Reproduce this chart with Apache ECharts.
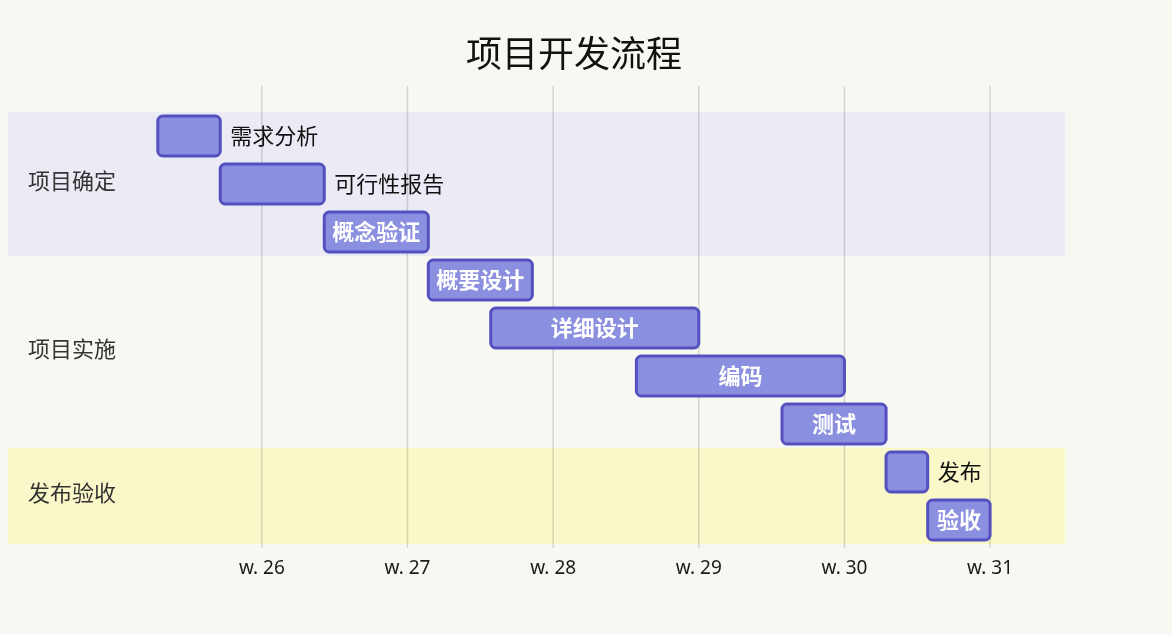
<!DOCTYPE html>
<html>
<head>
<meta charset="utf-8">
<script src="https://cdn.jsdelivr.net/npm/echarts@6/dist/echarts.min.js"></script>
<style>
html,body{margin:0;padding:0;background:#f8f8f3;}
#chart{width:1172px;height:634px;}
</style>
</head>
<body>
<div id="chart"></div>
<script>
// ---- data (days relative to Monday of week 26) ----
const taskNames  = ['需求分析','可行性报告','概念验证','概要设计','详细设计','编码','测试','发布','验收'];
const taskStart  = [-5, -2, 3, 8, 11, 18, 25, 30, 32];
const taskEnd    = [-2,  3, 8, 13, 21, 28, 30, 32, 35];
const groupNames = ['项目确定','项目实施','发布验收'];
const groupFirst = [0, 3, 7];
const groupLast  = [2, 6, 8];
const groupColors = ['#ebebf5', 'rgba(0,0,0,0)', '#faf7c8'];
const weekDays   = [0, 7, 14, 21, 28, 35];
const weekLabels = ['w. 26','w. 27','w. 28','w. 29','w. 30','w. 31'];

const FONT = '"Noto Sans CJK SC", "Noto Sans", sans-serif';
const LATIN = '"Noto Sans", sans-serif';
const measureCanvas = document.createElement('canvas').getContext('2d');
function textWidth(t, font) { measureCanvas.font = font; return measureCanvas.measureText(t).width; }

const chart = echarts.init(document.getElementById('chart'), null, {renderer: 'canvas'});

const option = {
  backgroundColor: '#f8f8f3',
  animation: false,
  title: {
    text: '项目开发流程',
    left: 466, top: 35, padding: 0,
    textStyle: {fontSize: 36, fontWeight: 'normal', color: '#111', fontFamily: FONT}
  },
  grid: {left: 8, right: 107, top: 112, bottom: 90},
  xAxis: {
    type: 'value', min: -12.2, max: 38.6,
    axisLine: {show: false},
    axisTick: {show: false, customValues: weekDays},
    splitLine: {show: false},
    axisLabel: {
      customValues: weekDays,
      formatter: v => weekLabels[weekDays.indexOf(v)] || '',
      fontSize: 19, color: '#1a1a1a', margin: 15, fontFamily: LATIN
    }
  },
  yAxis: {
    type: 'category', inverse: true, data: taskNames, show: false
  },
  series: [
    {
      type: 'custom', z: 1, silent: true,
      data: groupNames.map((g, i) => [groupFirst[i], groupLast[i], i]),
      encode: {y: [0, 1]},
      renderItem: function (params, api) {
        const cs = params.coordSys;
        const first = api.value(0), last = api.value(1), gi = api.value(2);
        const rowH = api.size([0, 1])[1];
        const yTop = api.coord([0, first])[1] - rowH / 2;
        const yBot = api.coord([0, last])[1] + rowH / 2;
        return {
          type: 'group',
          children: [
            {type: 'rect', shape: {x: cs.x, y: yTop, width: cs.width, height: yBot - yTop},
             style: {fill: groupColors[gi]}},
            {type: 'text', style: {text: groupNames[gi], x: 28, y: (yTop + yBot) / 2 - 3,
             fill: '#333', fontSize: 22, fontFamily: FONT, align: 'left', verticalAlign: 'middle'}}
          ]
        };
      }
    },
    {
      type: 'custom', z: 2, silent: true,
      data: weekDays.map(d => [d]),
      encode: {x: 0},
      renderItem: function (params, api) {
        const cs = params.coordSys;
        const x = api.coord([api.value(0), 0])[0];
        return {
          type: 'line',
          shape: {x1: x, y1: cs.y - 26, x2: x, y2: cs.y + cs.height + 4},
          style: {stroke: 'rgba(0,0,0,0.14)', lineWidth: 1.5}
        };
      }
    },
    {
      type: 'custom', z: 3,
      data: taskNames.map((n, i) => [i, taskStart[i], taskEnd[i]]),
      encode: {y: 0, x: [1, 2]},
      renderItem: function (params, api) {
        const yi = api.value(0);
        const p0 = api.coord([api.value(1), yi]);
        const p1 = api.coord([api.value(2), yi]);
        const h = api.size([0, 1])[1] * 0.83;
        const w = p1[0] - p0[0];
        const name = taskNames[yi];
        const tw = textWidth(name, 'bold 22px ' + FONT);
        const inside = tw + 12 <= w;
        const label = inside
          ? {type: 'text', style: {text: name, x: (p0[0] + p1[0]) / 2, y: p0[1],
              fill: '#ffffff', fontSize: 22, fontWeight: 'bold', fontFamily: FONT,
              align: 'center', verticalAlign: 'middle'}}
          : {type: 'text', style: {text: name, x: p1[0] + 10, y: p0[1],
              fill: '#111', fontSize: 22, fontFamily: FONT,
              align: 'left', verticalAlign: 'middle'}};
        return {
          type: 'group',
          children: [
            {type: 'rect', shape: {x: p0[0], y: p0[1] - h / 2, width: w, height: h, r: 5},
             style: {fill: '#8a8fdf', stroke: '#5450bf', lineWidth: 3}},
            label
          ]
        };
      }
    }
  ]
};
chart.setOption(option);
</script>
</body>
</html>
